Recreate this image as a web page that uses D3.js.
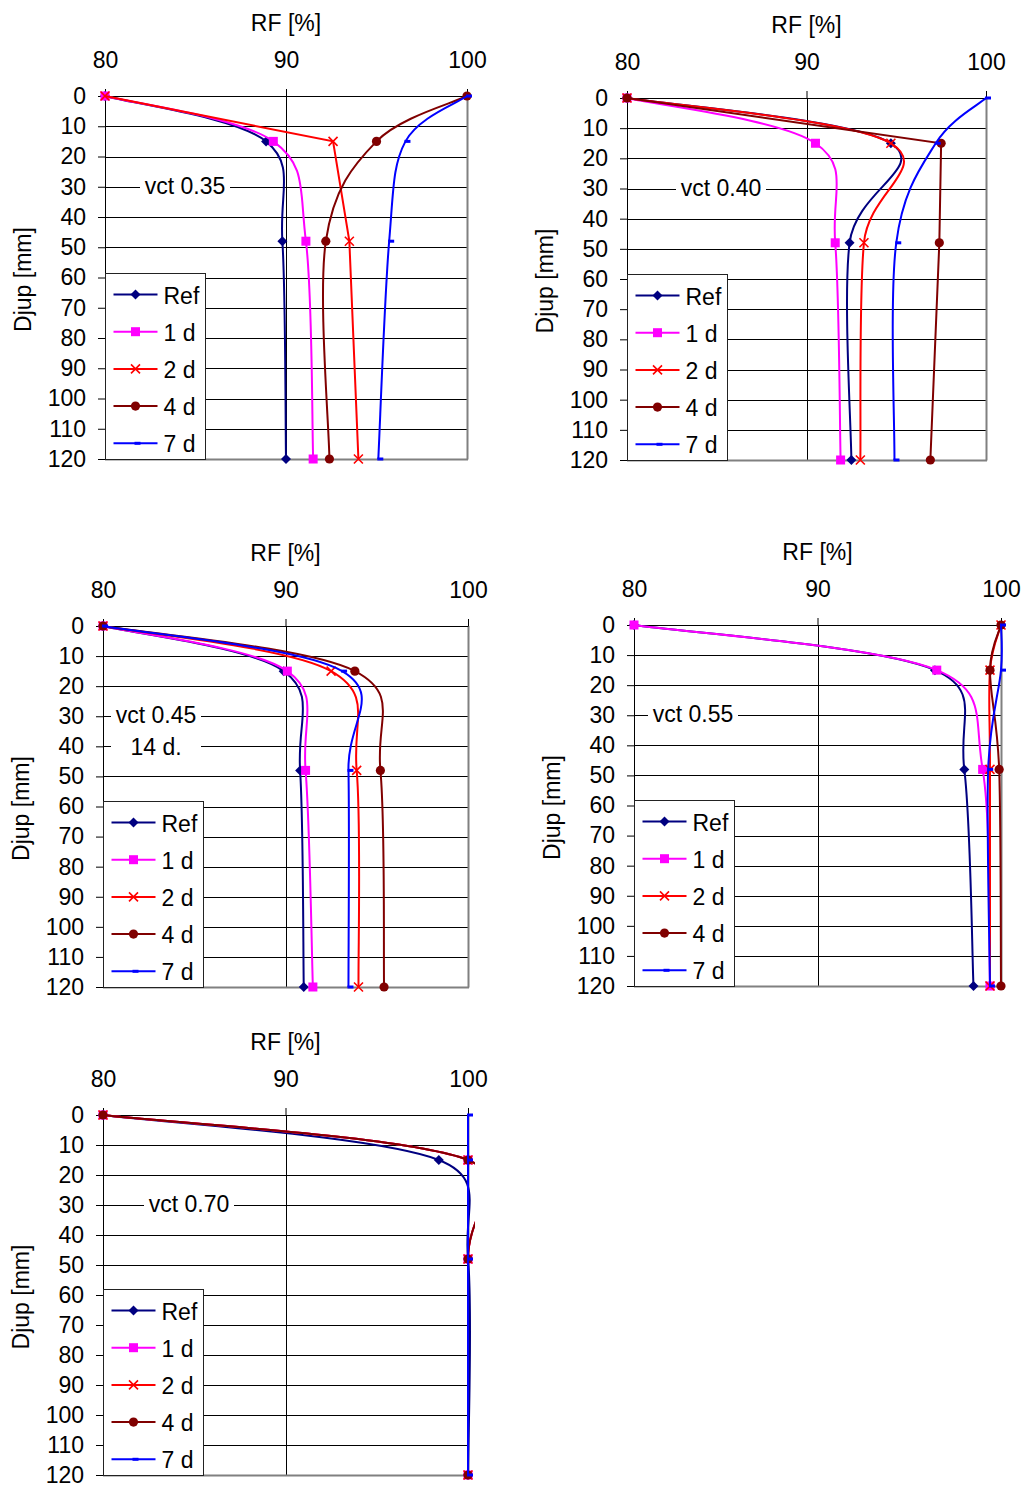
<!DOCTYPE html>
<html>
<head>
<meta charset="utf-8">
<script src="https://cdn.jsdelivr.net/npm/d3@7"></script>
<style>
  html, body { margin: 0; padding: 0; background: #fff; }
  svg { display: block; }
  text { font-family: 'Liberation Sans', Arial, sans-serif; fill: #000; }
</style>
</head>
<body>
<svg id="chart" width="1026" height="1488"></svg>
<script>
// ---------------- data ----------------
const depths = [0, 15, 48, 120];
const seriesNames = ["Ref", "1 d", "2 d", "4 d", "7 d"];
const xTickValues = [80, 90, 100];
const yTickValues = [0, 10, 20, 30, 40, 50, 60, 70, 80, 90, 100, 110, 120];
const xTitle = "RF [%]";
const yTitle = "Djup [mm]";

// values per panel, series order: Ref, 1 d, 2 d, 4 d, 7 d (RF % at depths 0, 15, 48, 120 mm)
const vct035 = [
  [80, 88.9, 89.8, 90.0],
  [80, 89.3, 91.1, 91.5],
  [80, 92.6, 93.5, 94.0],
  [100, 95.0, 92.2, 92.4],
  [100, 96.6, 95.7, 95.1]
];
const vct040 = [
  [80, 94.7, 92.4, 92.5],
  [80, 90.5, 91.6, 91.9],
  [80, 94.7, 93.2, 93.0],
  [80, 97.5, 97.4, 96.9],
  [100, 97.2, 95.0, 94.9]
];
const vct045 = [
  [80, 89.9, 90.8, 91.0],
  [80, 90.1, 91.1, 91.5],
  [80, 92.5, 93.9, 94.0],
  [80, 93.8, 95.2, 95.4],
  [80, 93.1, 93.45, 93.45]
];
const vct055 = [
  [80, 96.4, 98.0, 98.5],
  [80, 96.5, 99.0, 99.4],
  [100, 99.4, 99.4, 99.4],
  [100, 99.4, 99.9, 100.0],
  [100, 100.0, 99.3, 99.4]
];
const vct070 = [
  [80, 98.4, 100, 100],
  [80, 100, 100, 100],
  [80, 100, 100, 100],
  [80, 100, 100, 100],
  [100, 100, 100, 100]
];
const panelNotes = [["vct 0.35"], ["vct 0.40"], ["vct 0.45", "14 d."], ["vct 0.55"], ["vct 0.70"]];
const panelValues = [vct035, vct040, vct045, vct055, vct070];

// ---------------- styles / layout ----------------
const colors = ["#000080", "#FF00FF", "#FF0000", "#800000", "#0000FF"];
const markerTypes = ["diamond", "square", "x", "circle", "dash"];
const layouts = [
  { left: 105, right: 467, top: 96,   bottom: 459,  noteX: 80, noteY: 30, straight: [2] },
  { left: 627, right: 986, top: 98,   bottom: 460,  noteX: 94, noteY: 30, straight: [3] },
  { left: 103, right: 468, top: 626,  bottom: 987,  noteX: 53, noteY: 30, straight: [] },
  { left: 634, right: 1001, top: 625, bottom: 986,  noteX: 59, noteY: 30, straight: [] },
  { left: 103, right: 468, top: 1115, bottom: 1475, noteX: 86, noteY: 30, straight: [] }
];
const FS = 23;

// Spreadsheet-style smoothed line (Bezier with 1/6 tangents, arm capped at half segment)
function SmoothCurve(context) { this._context = context; }
SmoothCurve.prototype = {
  areaStart() {}, areaEnd() {},
  lineStart() { this._pts = []; },
  point(x, y) { this._pts.push([+x, +y]); },
  lineEnd() {
    const p = this._pts, c = this._context, n = p.length;
    if (!n) return;
    c.moveTo(p[0][0], p[0][1]);
    const dist = (a, b) => Math.hypot(a[0] - b[0], a[1] - b[1]);
    for (let i = 0; i < n - 1; i++) {
      const P0 = p[Math.max(i - 1, 0)], P1 = p[i], P2 = p[i + 1], P3 = p[Math.min(i + 2, n - 1)];
      const d02 = dist(P0, P2), d12 = dist(P1, P2), d13 = dist(P1, P3);
      const f0 = d02 > 0 ? Math.min(1 / 6, d12 / (2 * d02)) : 0;
      const f1 = d13 > 0 ? Math.min(1 / 6, d12 / (2 * d13)) : 0;
      c.bezierCurveTo(
        P1[0] + f0 * (P2[0] - P0[0]), P1[1] + f0 * (P2[1] - P0[1]),
        P2[0] - f1 * (P3[0] - P1[0]), P2[1] - f1 * (P3[1] - P1[1]),
        P2[0], P2[1]);
    }
  }
};
const curveSmooth = ctx => new SmoothCurve(ctx);

const svg = d3.select("#chart");
const defs = svg.append("defs");

function drawMarker(g, type, color, cx, cy) {
  if (type === "diamond") {
    g.append("path").attr("d", `M${cx},${cy - 5}L${cx + 5},${cy}L${cx},${cy + 5}L${cx - 5},${cy}Z`)
      .attr("fill", color);
  } else if (type === "square") {
    g.append("rect").attr("x", cx - 4.5).attr("y", cy - 4.5).attr("width", 9).attr("height", 9)
      .attr("fill", color);
  } else if (type === "x") {
    g.append("path").attr("d", `M${cx - 4.5},${cy - 4.5}L${cx + 4.5},${cy + 4.5}M${cx - 4.5},${cy + 4.5}L${cx + 4.5},${cy - 4.5}`)
      .attr("stroke", color).attr("stroke-width", 1.6).attr("fill", "none");
  } else if (type === "circle") {
    g.append("circle").attr("cx", cx).attr("cy", cy).attr("r", 4.6).attr("fill", color);
  } else if (type === "dash") {
    g.append("rect").attr("x", cx - 1).attr("y", cy - 1.5).attr("width", 6).attr("height", 3)
      .attr("fill", color);
  }
}

function drawPanel(L, values, notes, pi) {
  const g = svg.append("g");
  const x = d3.scaleLinear().domain([80, 100]).range([L.left, L.right]);
  const y = d3.scaleLinear().domain([0, 120]).range([L.top, L.bottom]);

  // horizontal gridlines
  g.append("g").selectAll("line")
    .data(yTickValues.filter(d => d > 0 && d < 120))
    .join("line")
    .attr("x1", L.left).attr("x2", L.right)
    .attr("y1", d => Math.round(y(d)) + 0.5).attr("y2", d => Math.round(y(d)) + 0.5)
    .attr("stroke", "#000").attr("stroke-width", 1);
  // vertical gridline at 90
  g.append("line")
    .attr("x1", Math.round(x(90)) + 0.5).attr("x2", Math.round(x(90)) + 0.5)
    .attr("y1", L.top).attr("y2", L.bottom)
    .attr("stroke", "#000");
  // plot area right + bottom border (gray)
  g.append("line")
    .attr("x1", Math.round(x(100)) + 0.5).attr("x2", Math.round(x(100)) + 0.5)
    .attr("y1", L.top).attr("y2", Math.round(y(120)) + 0.5)
    .attr("stroke", "#808080").attr("stroke-width", 2);
  g.append("line")
    .attr("x1", L.left).attr("x2", Math.round(x(100)) + 1)
    .attr("y1", Math.round(y(120)) + 0.5).attr("y2", Math.round(y(120)) + 0.5)
    .attr("stroke", "#808080").attr("stroke-width", 2);

  // top axis
  const xAxis = d3.axisTop(x).tickValues(xTickValues).tickSize(7).tickSizeOuter(0).tickPadding(21)
    .tickFormat(d3.format("d"));
  const gx = g.append("g").attr("transform", `translate(0,${Math.round(y(0))})`).call(xAxis);
  gx.attr("font-size", null).attr("font-family", null);
  gx.selectAll("text").style("font-size", FS + "px");
  gx.select(".domain").attr("stroke", "#000");
  gx.selectAll(".tick line").attr("stroke", "#000");

  // left axis
  const yAxis = d3.axisLeft(y).tickValues(yTickValues).tickSize(7).tickSizeOuter(0).tickPadding(12)
    .tickFormat(d3.format("d"));
  const gy = g.append("g").attr("transform", `translate(${Math.round(x(80))},0)`).call(yAxis);
  gy.attr("font-size", null).attr("font-family", null);
  gy.selectAll("text").style("font-size", FS + "px");

  // axis titles
  g.append("text").attr("x", x(90)).attr("y", L.top - 73)
    .attr("text-anchor", "middle").attr("dominant-baseline", "central")
    .style("font-size", FS + "px").text(xTitle);
  g.append("text")
    .attr("transform", `translate(${L.left - 82},${(L.top + L.bottom) / 2 + 2}) rotate(-90)`)
    .attr("text-anchor", "middle").attr("dominant-baseline", "central")
    .style("font-size", FS + "px").text(yTitle);

  // note box
  const ng = g.append("g");
  const ncx = L.left + L.noteX;
  const ncy = y(L.noteY) - 1;
  const lineH = 32;
  const bgW = 90;
  const bgH = notes.length === 1 ? 26 : 26 + lineH * (notes.length - 1);
  ng.append("rect").attr("x", ncx - bgW / 2).attr("y", ncy - 13).attr("width", bgW).attr("height", bgH)
    .attr("fill", "#fff");
  notes.forEach((t, i) => {
    ng.append("text").attr("x", ncx).attr("y", ncy + i * lineH)
      .attr("text-anchor", "middle").attr("dominant-baseline", "central")
      .style("font-size", FS + "px").text(t);
  });

  // clip region (chart object boundary)
  const clipId = "clip" + pi;
  defs.append("clipPath").attr("id", clipId).append("rect")
    .attr("x", 0).attr("y", L.top - 20).attr("width", L.right + 7).attr("height", L.bottom - L.top + 40);

  // series
  const sAll = g.append("g").attr("clip-path", `url(#${clipId})`);
  values.forEach((vals, si) => {
    const pts = depths.map((d, i) => [d, vals[i]]);
    const line = d3.line()
      .x(d => x(d[1]))
      .y(d => y(d[0]))
      .curve(L.straight.includes(si) ? d3.curveLinear : curveSmooth);
    const sg = sAll.append("g");
    sg.append("path").attr("d", line(pts))
      .attr("fill", "none").attr("stroke", colors[si]).attr("stroke-width", 2);
    pts.forEach(p => drawMarker(sg, markerTypes[si], colors[si], x(p[1]), y(p[0])));
  });

  // legend
  const lg = g.append("g");
  const lx = Math.round(L.left) + 0.5;
  const lh = 186;
  const ly = Math.round(L.bottom) - lh + 0.5;
  lg.append("rect").attr("x", lx).attr("y", ly).attr("width", 100).attr("height", lh)
    .attr("fill", "#fff").attr("stroke", "#222").attr("stroke-width", 1);
  seriesNames.forEach((name, si) => {
    const ey = ly + 21 + si * 37.2;
    lg.append("line").attr("x1", lx + 8).attr("x2", lx + 52).attr("y1", ey).attr("y2", ey)
      .attr("stroke", colors[si]).attr("stroke-width", 2);
    drawMarker(lg, markerTypes[si], colors[si], lx + 30, ey);
    lg.append("text").attr("x", lx + 58).attr("y", ey + 1)
      .attr("dominant-baseline", "central").style("font-size", FS + "px").text(name);
  });
}

layouts.forEach((L, i) => drawPanel(L, panelValues[i], panelNotes[i], i));
</script>
</body>
</html>
